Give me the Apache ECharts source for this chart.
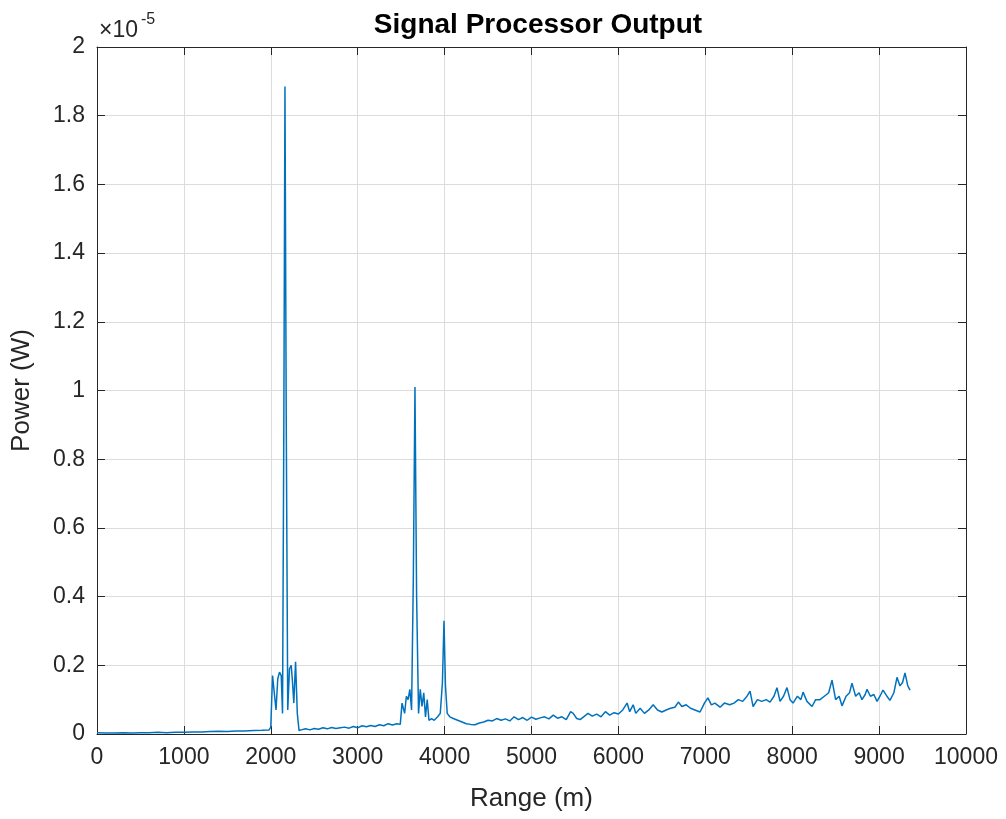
<!DOCTYPE html>
<html>
<head>
    <meta charset="utf-8">
    <title>Signal Processor Output</title>
    <script src="https://cdn.jsdelivr.net/npm/echarts@6/dist/echarts.min.js"></script>
    <style>
        html, body { margin: 0; padding: 0; background: #fff; }
        #chart { width: 1006px; height: 819px; }
    </style>
</head>
<body>
<div id="chart"></div>

<script type="text/javascript">
    // range in metres, power in units of 1e-5 W
    var rangeM = [
        0, 100, 200, 300, 400, 500, 600, 700, 800, 900, 1000, 1100, 1200, 1300, 1400, 1500, 1600, 1700, 1800, 1900, 1980,
        2000, 2020, 2040, 2060, 2080, 2100, 2120, 2135, 2150, 2163, 2178, 2195, 2215, 2235, 2250, 2265, 2285, 2305, 2325,
        2350, 2400, 2450, 2500, 2550, 2600, 2650, 2700, 2750, 2800, 2850, 2900, 2950, 3000, 3050, 3100, 3150, 3200, 3250, 3300, 3350, 3400, 3450, 3490,
        3510, 3540, 3560, 3580, 3600, 3620, 3640, 3659, 3678, 3700, 3720, 3740, 3760, 3780, 3800, 3820, 3850, 3880, 3920, 3950, 3975, 3993, 4010, 4030, 4060,
        4100, 4150, 4200, 4250, 4300, 4350, 4400, 4450, 4500, 4550, 4600, 4650, 4700, 4750, 4800, 4850, 4900, 4950, 5000,
        5050, 5100, 5150, 5200, 5250, 5300, 5350, 5400, 5450, 5480, 5520, 5560, 5600, 5650, 5700, 5750, 5800, 5850, 5900, 5950, 6000,
        6050, 6100, 6130, 6170, 6200, 6250, 6300, 6350, 6400, 6450, 6500, 6550, 6600, 6650, 6690, 6730, 6780, 6830, 6880, 6940, 6990,
        7030, 7070, 7110, 7170, 7220, 7280, 7330, 7380, 7430, 7480, 7515, 7550, 7600, 7650, 7700, 7745, 7790, 7825, 7860, 7900, 7940, 7975,
        8010, 8060, 8100, 8125, 8170, 8228, 8270, 8320, 8370, 8420, 8458, 8500, 8540, 8573, 8620, 8660, 8688, 8730, 8770, 8803, 8840, 8861,
        8900, 8940, 8976, 9010, 9045, 9090, 9125, 9170, 9206, 9240, 9270, 9298, 9330, 9356
    ];
    var powerE5 = [
        0.004, 0.003, 0.003, 0.004, 0.003, 0.004, 0.004, 0.005, 0.004, 0.005, 0.005, 0.006, 0.006, 0.007, 0.008, 0.007, 0.009, 0.009, 0.010, 0.011, 0.012,
        0.02, 0.17, 0.12, 0.07, 0.16, 0.18, 0.17, 0.06, 0.9, 1.885, 0.9, 0.07, 0.19, 0.20, 0.15, 0.09, 0.21, 0.06, 0.01,
        0.012, 0.015, 0.012, 0.016, 0.014, 0.018, 0.015, 0.019, 0.016, 0.018, 0.02, 0.017, 0.022, 0.018, 0.024, 0.021, 0.025, 0.022, 0.027, 0.024, 0.03, 0.026, 0.03, 0.028,
        0.09, 0.06, 0.11, 0.10, 0.13, 0.07, 0.45, 1.01, 0.4, 0.06, 0.13, 0.08, 0.12, 0.05, 0.10, 0.04, 0.045, 0.04, 0.05, 0.06, 0.15, 0.33, 0.14, 0.06, 0.05,
        0.045, 0.04, 0.035, 0.03, 0.028, 0.027, 0.032, 0.035, 0.04, 0.038, 0.045, 0.04, 0.044, 0.038, 0.05, 0.042, 0.048, 0.04, 0.049,
        0.043, 0.047, 0.05, 0.044, 0.055, 0.046, 0.05, 0.042, 0.065, 0.06, 0.045, 0.042, 0.05, 0.06, 0.052, 0.058, 0.05, 0.065, 0.055, 0.062, 0.058,
        0.07, 0.09, 0.065, 0.085, 0.06, 0.075, 0.06, 0.07, 0.085, 0.07, 0.064, 0.07, 0.075, 0.078, 0.093, 0.08, 0.085, 0.075, 0.07, 0.064, 0.09,
        0.105, 0.085, 0.09, 0.078, 0.09, 0.085, 0.09, 0.1, 0.095, 0.11, 0.125, 0.08, 0.1, 0.095, 0.1, 0.093, 0.11, 0.135, 0.095, 0.11, 0.135, 0.1,
        0.09, 0.11, 0.1, 0.122, 0.095, 0.08, 0.1, 0.1, 0.11, 0.12, 0.157, 0.1, 0.11, 0.082, 0.11, 0.12, 0.148, 0.11, 0.12, 0.1, 0.115, 0.13,
        0.11, 0.115, 0.095, 0.11, 0.128, 0.11, 0.098, 0.12, 0.165, 0.14, 0.15, 0.178, 0.14, 0.128
    ];
    var xTicks = { min: 0, max: 10000, step: 1000 };
    var yTicks = { min: 0, max: 2, step: 0.2 };

    var seriesData = rangeM.map(function (r, i) { return [r, powerE5[i]]; });

    var dom = document.getElementById('chart');
    var myChart = echarts.init(dom, null, { renderer: 'canvas' });

    var axisColor = '#262626';
    var fontFam = '"Liberation Sans", Arial, Helvetica, sans-serif';

    function boxAxis(pos, t, isMain) {
        return {
            type: 'value',
            position: pos,
            min: t.min,
            max: t.max,
            interval: t.step,
            axisLine: { show: true, onZero: false, lineStyle: { color: axisColor, width: 1 } },
            axisTick: { show: true, inside: true, length: 8, lineStyle: { color: axisColor } },
            axisLabel: {
                show: isMain, color: axisColor, fontSize: 23, fontFamily: fontFam,
                formatter: function (v) { return String(+v.toFixed(1)); }
            },
            splitLine: { show: isMain, lineStyle: { color: '#dcdcdc', width: 1 } }
        };
    }

    var xMain = boxAxis('bottom', xTicks, true);
    xMain.axisLabel.margin = 12;
    xMain.name = 'Range (m)';
    xMain.nameLocation = 'middle';
    xMain.nameGap = 52;
    xMain.nameTextStyle = { color: axisColor, fontSize: 26, fontFamily: fontFam };

    var yMain = boxAxis('left', yTicks, true);
    yMain.axisLabel.margin = 12;
    yMain.name = 'Power (W)';
    yMain.nameLocation = 'middle';
    yMain.nameGap = 62;
    yMain.nameTextStyle = { color: axisColor, fontSize: 26, fontFamily: fontFam };

    var option = {
        backgroundColor: '#ffffff',
        animation: false,
        title: {
            text: 'Signal Processor Output',
            left: 533,
            textAlign: 'center',
            top: 6,
            textStyle: { color: '#000', fontSize: 28, fontWeight: 'bold', fontFamily: fontFam }
        },
        graphic: [
            { type: 'text', left: 99, top: 19, style: { text: '\u00d710', fill: axisColor, font: '23px ' + fontFam } },
            { type: 'text', left: 141, top: 12, style: { text: '-5', fill: axisColor, font: '16px ' + fontFam } }
        ],
        grid: { left: 97, right: 40, top: 47, bottom: 85, containLabel: false },
        xAxis: [xMain, boxAxis('top', xTicks, false)],
        yAxis: [yMain, boxAxis('right', yTicks, false)],
        series: [
            {
                type: 'line',
                xAxisIndex: 0,
                yAxisIndex: 0,
                data: seriesData,
                showSymbol: false,
                symbol: 'none',
                lineStyle: { color: '#0072BD', width: 1.5 }
            }
        ]
    };

    myChart.setOption(option);
    window.addEventListener('resize', myChart.resize);
</script>
</body>
</html>
